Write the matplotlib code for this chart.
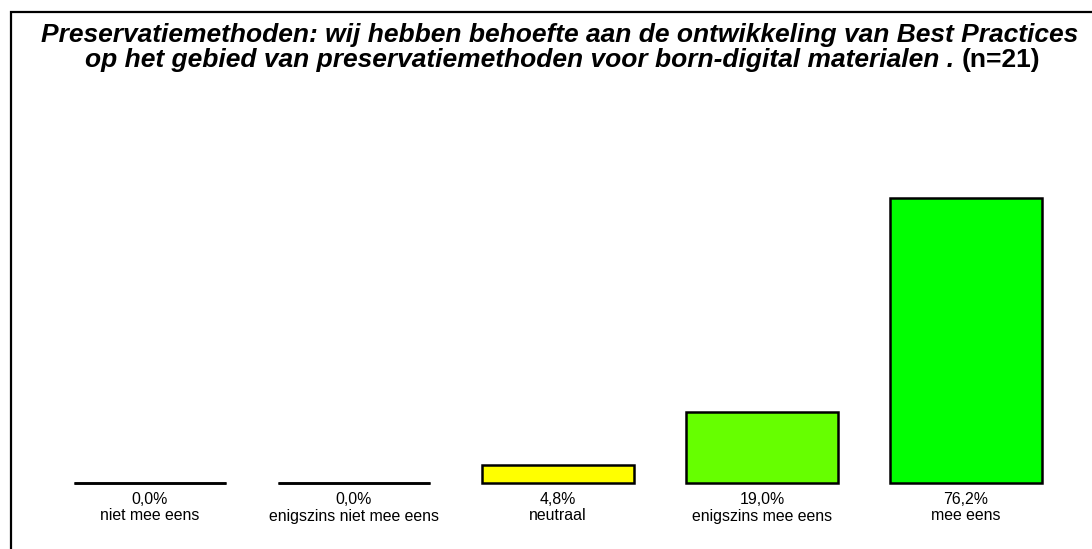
import matplotlib
matplotlib.use("Agg")
import matplotlib.pyplot as plt
from matplotlib.patches import Rectangle

categories = ["niet mee eens", "enigszins niet mee eens", "neutraal", "enigszins mee eens", "mee eens"]
values = [0.0, 0.0, 4.8, 19.0, 76.2]
colors = ["#FF0000", "#FF6600", "#FFFF00", "#66FF00", "#00FF00"]
title_line1 = "Preservatiemethoden: wij hebben behoefte aan de ontwikkeling van Best Practices"
title_line2 = "op het gebied van preservatiemethoden voor born-digital materialen ."
title_n = "(n=21)"

W, H = 1092, 549
fig = plt.figure(figsize=(W / 100, H / 100), dpi=100)
plt.rcParams['font.family'] = ['Liberation Sans', 'DejaVu Sans']

# frame
fig.patches.append(Rectangle((11 / W, -0.05), 1.2, (H - 12) / H + 0.05, transform=fig.transFigure,
                             fill=False, edgecolor="black", linewidth=1.6, zorder=0))

ax_left, ax_right = 48, 1068
base_y, top_y = 483, 184
ax = fig.add_axes([ax_left / W, (H - base_y) / H, (ax_right - ax_left) / W, (base_y - top_y) / H])
ax.set_xlim(-0.5, len(categories) - 0.5)
ax.set_ylim(0, 80)
ax.axis("off")

bw = 0.745
x = list(range(len(categories)))
bars = ax.bar(x, values, width=bw, color=colors, edgecolor="black", linewidth=1.8, zorder=2)
for b in bars:
    b.set_clip_on(False)
# zero-valued bars appear as a flat black line
zx = [i for i, v in zip(x, values) if v == 0]
ax.hlines([0] * len(zx), [i - bw / 2 for i in zx], [i + bw / 2 for i in zx],
          colors="black", linewidth=1.8, zorder=3, clip_on=False)
ax.set_ylim(0, 80)

for i, (c, v) in enumerate(zip(categories, values)):
    lab = f"{v:.1f}%".replace(".", ",")
    ax.annotate(lab, (i, 0), xytext=(0, -16), textcoords="offset pixels",
                ha="center", va="center", fontsize=11.4)
    ax.annotate(c, (i, 0), xytext=(0, -33), textcoords="offset pixels",
                ha="center", va="center", fontsize=11.4)

fig.text(560 / W, 1 - 35 / H, title_line1, ha="center", va="center",
         fontsize=19, fontweight="bold", fontstyle="italic")
fig.text(954 / W, 1 - 60 / H, title_line2, ha="right", va="center",
         fontsize=19, fontweight="bold", fontstyle="italic")
fig.text(962 / W, 1 - 60 / H, title_n, ha="left", va="center",
         fontsize=19, fontweight="bold")

fig.savefig("out.png", dpi=100)
